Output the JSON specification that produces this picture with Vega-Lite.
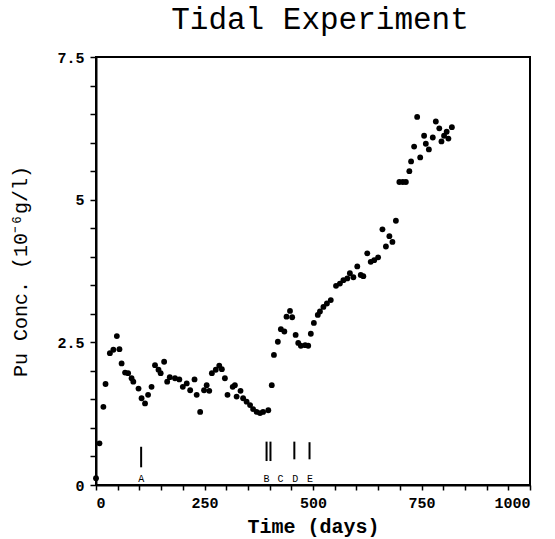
{
  "$schema": "https://vega.github.io/schema/vega-lite/v6.json",
  "autosize": "none",
  "width": 434,
  "height": 428,
  "padding": {"left": 96, "top": 57, "right": 25, "bottom": 54},
  "background": "white",
  "title": {
    "text": "Tidal Experiment",
    "font": "Liberation Mono",
    "fontSize": 31,
    "fontWeight": "normal",
    "color": "black",
    "anchor": "middle",
    "dx": 7,
    "offset": 14
  },
  "datasets": {
    "points": [
      {"day": 0, "conc": 0.12}, {"day": 8, "conc": 0.73},
      {"day": 17, "conc": 1.37}, {"day": 22, "conc": 1.77}, {"day": 32, "conc": 2.31}, {"day": 40, "conc": 2.37},
      {"day": 48, "conc": 2.61}, {"day": 54, "conc": 2.38}, {"day": 59, "conc": 2.13}, {"day": 67, "conc": 1.97},
      {"day": 74, "conc": 1.96}, {"day": 82, "conc": 1.87}, {"day": 86, "conc": 1.81}, {"day": 98, "conc": 1.69},
      {"day": 105, "conc": 1.52}, {"day": 113, "conc": 1.43}, {"day": 120, "conc": 1.58}, {"day": 128, "conc": 1.72},
      {"day": 136, "conc": 2.10}, {"day": 144, "conc": 2.02}, {"day": 149, "conc": 1.96}, {"day": 157, "conc": 2.16},
      {"day": 164, "conc": 1.81}, {"day": 170, "conc": 1.89}, {"day": 182, "conc": 1.87}, {"day": 192, "conc": 1.85},
      {"day": 200, "conc": 1.72}, {"day": 209, "conc": 1.78}, {"day": 217, "conc": 1.66}, {"day": 227, "conc": 1.85},
      {"day": 232, "conc": 1.58}, {"day": 240, "conc": 1.28}, {"day": 249, "conc": 1.66}, {"day": 255, "conc": 1.75},
      {"day": 261, "conc": 1.65}, {"day": 267, "conc": 1.96}, {"day": 276, "conc": 2.02}, {"day": 284, "conc": 2.09},
      {"day": 290, "conc": 2.03}, {"day": 297, "conc": 1.87}, {"day": 303, "conc": 1.58}, {"day": 315, "conc": 1.72},
      {"day": 320, "conc": 1.75}, {"day": 324, "conc": 1.55}, {"day": 333, "conc": 1.65}, {"day": 339, "conc": 1.52},
      {"day": 347, "conc": 1.46}, {"day": 355, "conc": 1.40}, {"day": 362, "conc": 1.33}, {"day": 370, "conc": 1.28},
      {"day": 378, "conc": 1.26}, {"day": 385, "conc": 1.28}, {"day": 397, "conc": 1.31}, {"day": 405, "conc": 1.75},
      {"day": 410, "conc": 2.28}, {"day": 419, "conc": 2.51}, {"day": 426, "conc": 2.73}, {"day": 434, "conc": 2.69},
      {"day": 439, "conc": 2.95}, {"day": 447, "conc": 3.05}, {"day": 452, "conc": 2.94}, {"day": 460, "conc": 2.63},
      {"day": 466, "conc": 2.49}, {"day": 472, "conc": 2.44}, {"day": 482, "conc": 2.45}, {"day": 489, "conc": 2.44},
      {"day": 495, "conc": 2.65}, {"day": 502, "conc": 2.84}, {"day": 511, "conc": 2.98}, {"day": 516, "conc": 3.04},
      {"day": 524, "conc": 3.12}, {"day": 532, "conc": 3.18}, {"day": 541, "conc": 3.24}, {"day": 553, "conc": 3.49},
      {"day": 562, "conc": 3.53}, {"day": 570, "conc": 3.59}, {"day": 579, "conc": 3.62}, {"day": 585, "conc": 3.71},
      {"day": 593, "conc": 3.64}, {"day": 602, "conc": 3.83}, {"day": 610, "conc": 3.68}, {"day": 616, "conc": 3.66},
      {"day": 625, "conc": 4.06}, {"day": 633, "conc": 3.91}, {"day": 641, "conc": 3.94}, {"day": 650, "conc": 3.99},
      {"day": 660, "conc": 4.48}, {"day": 668, "conc": 4.18}, {"day": 676, "conc": 4.36}, {"day": 683, "conc": 4.26},
      {"day": 691, "conc": 4.63}, {"day": 699, "conc": 5.31}, {"day": 707, "conc": 5.31}, {"day": 714, "conc": 5.31},
      {"day": 722, "conc": 5.50}, {"day": 726, "conc": 5.67}, {"day": 733, "conc": 5.93}, {"day": 740, "conc": 6.45},
      {"day": 747, "conc": 5.74}, {"day": 756, "conc": 6.12}, {"day": 760, "conc": 5.98}, {"day": 767, "conc": 5.88},
      {"day": 776, "conc": 6.09}, {"day": 783, "conc": 6.37}, {"day": 791, "conc": 6.25}, {"day": 796, "conc": 6.02},
      {"day": 802, "conc": 6.12}, {"day": 808, "conc": 6.19}, {"day": 812, "conc": 6.07}, {"day": 820, "conc": 6.27}
    ],
    "events": [
      {"day": 104, "conc": 0.31, "hi": 0.67},
      {"day": 393, "conc": 0.42, "hi": 0.76},
      {"day": 402, "conc": 0.42, "hi": 0.76},
      {"day": 457, "conc": 0.45, "hi": 0.76},
      {"day": 492, "conc": 0.45, "hi": 0.75}
    ],
    "labels": [
      {"day": 104, "conc": 0.1, "label": "A"},
      {"day": 393, "conc": 0.1, "label": "B"},
      {"day": 425, "conc": 0.1, "label": "C"},
      {"day": 459, "conc": 0.1, "label": "D"},
      {"day": 493, "conc": 0.1, "label": "E"}
    ]
  },
  "encoding": {
    "x": {
      "field": "day",
      "type": "quantitative",
      "scale": {"domain": [0, 1000], "nice": false, "zero": false},
      "axis": {
        "title": "Time (days)",
        "values": [0, 50, 100, 150, 200, 250, 300, 350, 400, 450, 500, 550, 600, 650, 700, 750, 800, 850, 900, 950, 1000],
        "labelExpr": "datum.value % 250 == 0 ? datum.label : ''",
        "format": "d",
        "grid": false,
        "tickSize": 5,
        "labelPadding": 5,
        "titlePadding": 6,
        "titleFontWeight": "bold",
        "titleFontSize": 20
      }
    },
    "y": {
      "field": "conc",
      "type": "quantitative",
      "scale": {"domain": [0, 7.5], "nice": false, "zero": true},
      "axis": {
        "title": "Pu Conc. (10⁻⁶g/l)",
        "values": [0, 0.5, 1, 1.5, 2, 2.5, 3, 3.5, 4, 4.5, 5, 5.5, 6, 6.5, 7, 7.5],
        "format": ".1~f",
        "labelExpr": "datum.value % 2.5 == 0 ? datum.label : ''",
        "grid": false,
        "tickSize": 6,
        "labelPadding": 6,
        "titlePadding": 26,
        "titleFontWeight": "normal",
        "titleFontSize": 20
      }
    }
  },
  "layer": [
    {
      "data": {"name": "points"},
      "mark": {"type": "circle", "size": 34, "color": "black", "opacity": 1}
    },
    {
      "data": {"name": "events"},
      "mark": {"type": "rule", "color": "black", "strokeWidth": 2},
      "encoding": {
        "y2": {"field": "hi"}
      }
    },
    {
      "data": {"name": "labels"},
      "mark": {"type": "text", "font": "Liberation Mono", "fontSize": 10, "color": "black", "baseline": "middle"},
      "encoding": {
        "text": {"field": "label"}
      }
    }
  ],
  "config": {
    "view": {"stroke": "black", "strokeWidth": 2},
    "axis": {
      "domainColor": "black",
      "domainWidth": 2,
      "tickColor": "black",
      "tickWidth": 1.5,
      "labelColor": "black",
      "titleColor": "black",
      "labelFont": "Liberation Mono",
      "labelFontWeight": "bold",
      "labelFontSize": 15,
      "titleFont": "Liberation Mono"
    }
  }
}
